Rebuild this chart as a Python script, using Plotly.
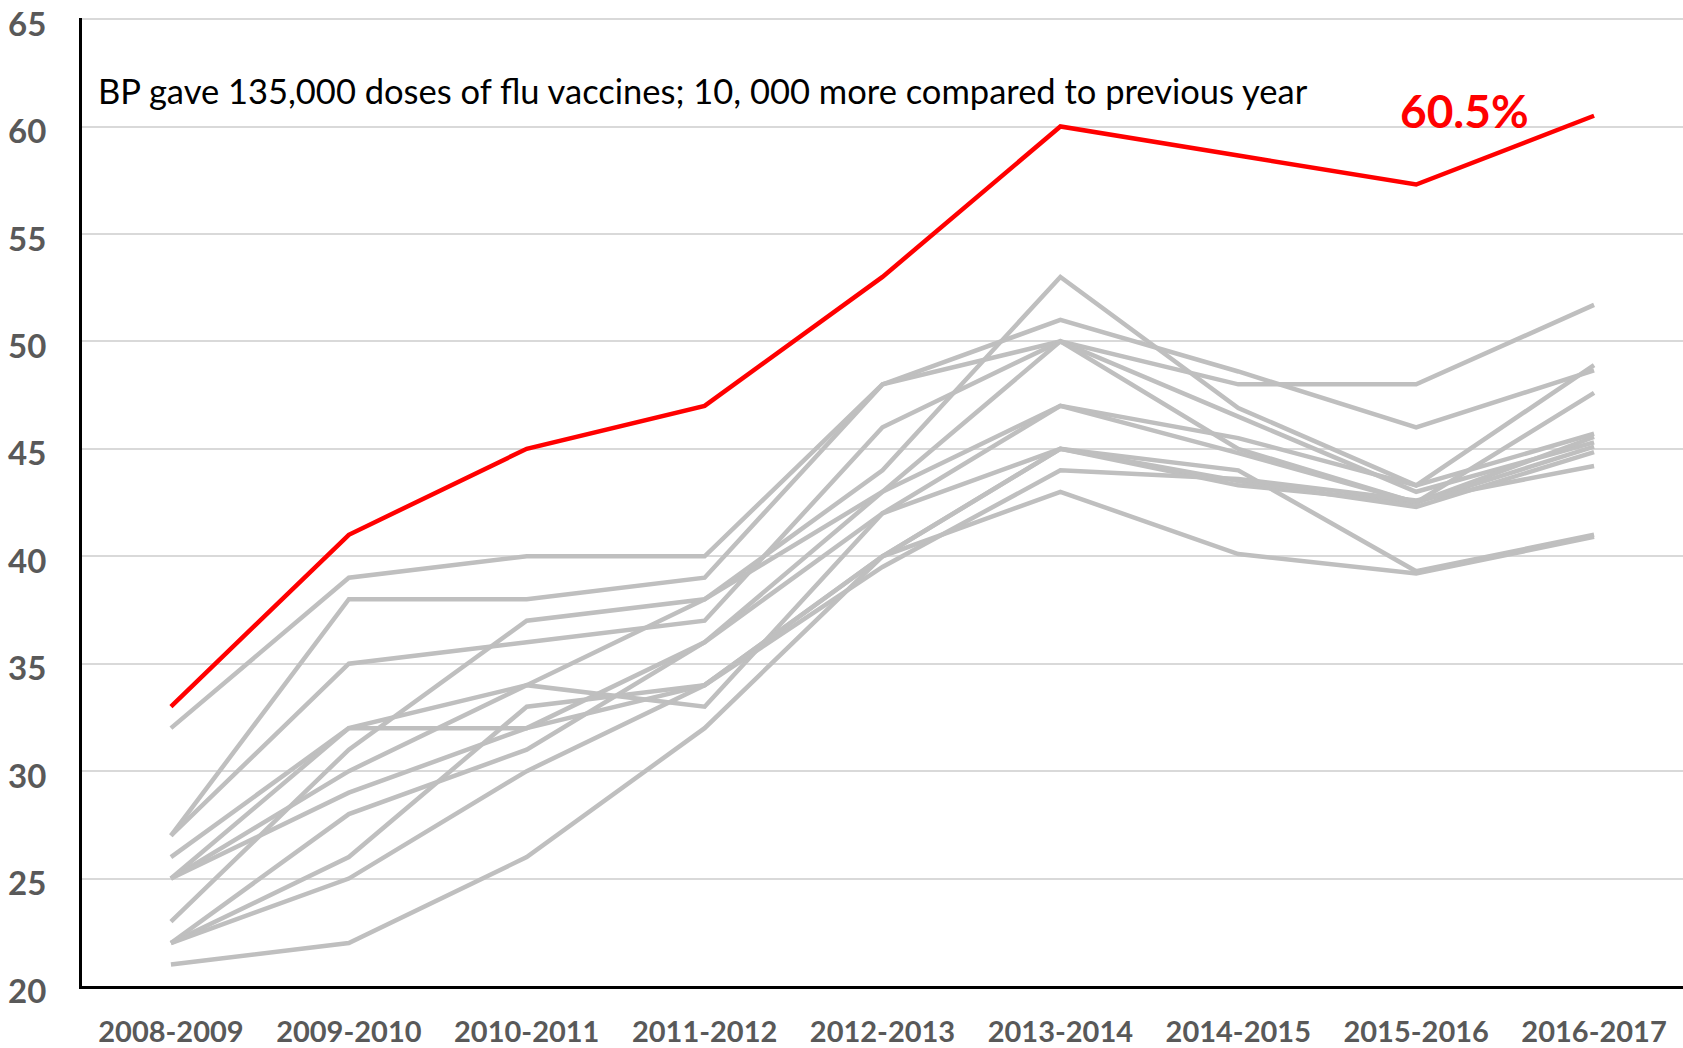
import plotly.graph_objects as go

seasons = ["2008-2009", "2009-2010", "2010-2011", "2011-2012", "2012-2013",
           "2013-2014", "2014-2015", "2015-2016", "2016-2017"]

bp_values = [33, 41, 45, 47, 53, 60, 58.65, 57.3, 60.5]

peer_a = [23, 31, 37, 38, 44, 53, 46.9, 43.3, 48.9]
peer_b = [27, 38, 38, 39, 48, 51, 48.6, 46, 48.65]
peer_c = [32, 39, 40, 40, 48, 50, 48, 48, 51.7]
peer_d = [27, 35, 36, 37, 46, 50, 46.5, 43.0, 45.3]
peer_e = [26, 32, 34, 38, 43, 50, 45.0, 42.5, 45.55]
peer_f = [22, 28, 31, 36, 43, 47, 45.5, 43.3, 45.7]
peer_g = [25, 32, 32, 36, 42, 47, 44.8, 42.5, 47.6]
peer_h = [25, 30, 34, 33, 42, 45, 44.0, 39.3, 41.0]
peer_i = [25, 29, 32, 34, 40, 45, 43.3, 42.5, 45.1]
peer_j = [22, 26, 33, 34, 40, 45, 43.5, 42.3, 44.85]
peer_k = [22, 25, 30, 34, 39.5, 44, 43.6, 42.6, 44.2]
peer_l = [21, 22, 26, 32, 40, 43, 40.1, 39.2, 40.9]

peers = [peer_a, peer_b, peer_c, peer_d, peer_e, peer_f,
         peer_g, peer_h, peer_i, peer_j, peer_k, peer_l]

y_ticks = [20, 25, 30, 35, 40, 45, 50, 55, 60, 65]

note_text = "BP gave 135,000 doses of flu vaccines; 10, 000 more compared to previous year"
bp_label = "60.5%"

fig = go.Figure()
for p in peers:
    fig.add_trace(go.Scatter(x=seasons, y=p, mode="lines",
                             line=dict(color="#bfbfbf", width=4.5),
                             hoverinfo="skip", showlegend=False))
fig.add_trace(go.Scatter(x=seasons, y=bp_values, mode="lines",
                         line=dict(color="#ff0000", width=4.5),
                         showlegend=False))

fig.add_annotation(xref="paper", yref="paper", x=0.0085, y=0.9246,
                   xanchor="left", yanchor="middle", showarrow=False,
                   text=note_text,
                   font=dict(family="Lato", size=34.5, color="#000000"))
fig.add_annotation(xref="x", yref="y", x=7.274, y=60.75,
                   xanchor="center", yanchor="middle", showarrow=False,
                   text="<b>" + bp_label + "</b>",
                   font=dict(family="Lato", size=46, color="#ff0000"))

fig.update_layout(
    width=1683, height=1048,
    margin=dict(l=82, r=0, t=18, b=62, autoexpand=False),
    paper_bgcolor="white", plot_bgcolor="white",
    font=dict(family="Lato"),
)
fig.update_xaxes(type="category", range=[-0.5, 8.5], automargin=False,
                 showline=True, linecolor="black", linewidth=3,
                 showgrid=False, ticks="", ticklabelstandoff=18,
                 tickfont=dict(family="Lato", size=29, color="#595959", weight="bold"))
fig.update_yaxes(range=[20, 65.05], tickvals=y_ticks, automargin=False,
                 showline=True, linecolor="black", linewidth=3,
                 showgrid=True, gridcolor="#d9d9d9", gridwidth=1.5,
                 zeroline=False, ticks="", ticklabelstandoff=26,
                 ticklabelshift=5, ticklabeloverflow="allow",
                 tickfont=dict(family="Lato", size=33, color="#595959", weight="bold"))

# remove the default page margin so the figure sits at the window's top-left corner
fig.write_html("out.html", config={"displayModeBar": False},
               post_script="document.body.style.margin='0px';")
